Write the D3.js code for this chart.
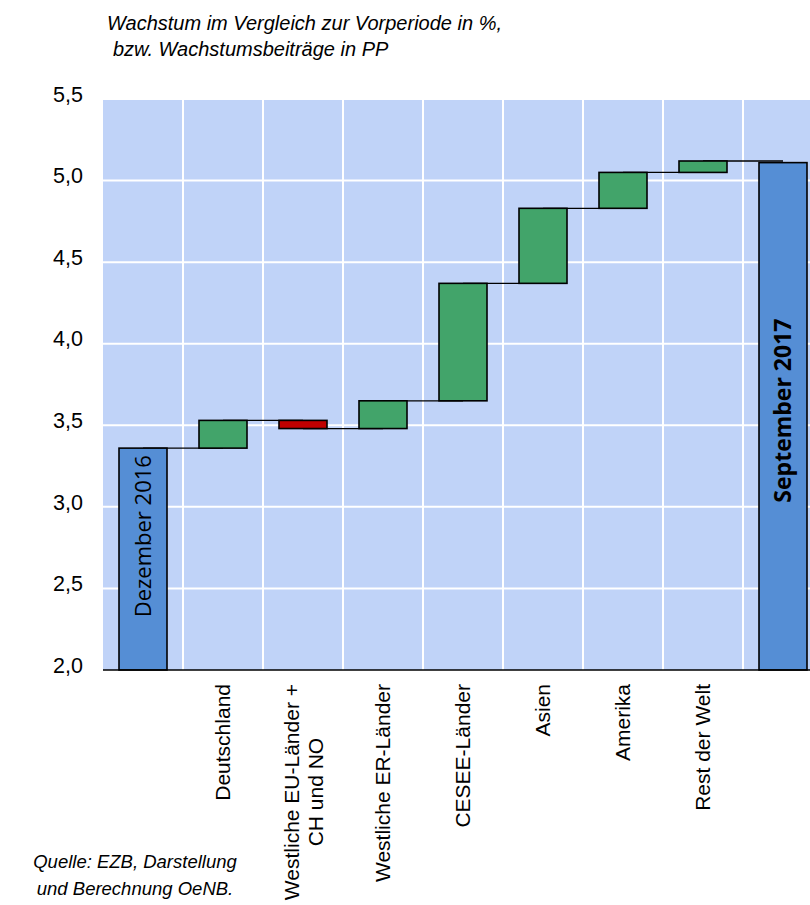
<!DOCTYPE html>
<meta charset="utf-8">
<style>
body { margin: 0; background: #fff; }
text { font-family: "Liberation Sans", Arial, sans-serif; fill: #000; }
.note { font-style: italic; font-size: 18.5px; }
.title { font-size: 20px; }
.cat text { font-size: 21px; }
.barlabel { font-family: "Open Sans", sans-serif; }
</style>
<body>
<svg width="810" height="905"></svg>
<script src="https://d3js.org/d3.v7.min.js"></script>
<script>

// data: start total, contributions in PP, end total
var categories = ["Dezember 2016", "Deutschland", "Westliche EU-Länder +|CH und NO", "Westliche ER-Länder",
                  "CESEE-Länder", "Asien", "Amerika", "Rest der Welt", "September 2017"];
var startValue = 3.36;
var contributions = [0.17, -0.05, 0.17, 0.72, 0.46, 0.22, 0.07];
var endValue = 5.11;
var yTicks = [2.0, 2.5, 3.0, 3.5, 4.0, 4.5, 5.0, 5.5];
// where the text in the total bars sits (value at text centre)
var totalLabelPos = [2.82, 3.59];

var svg = d3.select("svg"),
    margin = {top: 99, left: 103, bottom: 235},
    plotW = 720,
    plotH = +svg.attr("height") - margin.top - margin.bottom;

var x = d3.scaleBand().domain(d3.range(categories.length)).range([margin.left, margin.left + plotW]).paddingInner(0).paddingOuter(0);
var y = d3.scaleLinear().domain([2.0, 5.5]).range([margin.top + plotH, margin.top]);
var bw = x.bandwidth() * 0.6;

// build waterfall rows
var rows = [{i: 0, lo: 2.0, hi: startValue, type: "total"}];
var run = startValue;
contributions.forEach(function(c, k) {
  var next = run + c;
  rows.push({i: k + 1, lo: Math.min(run, next), hi: Math.max(run, next), type: c >= 0 ? "up" : "down"});
  run = next;
});
rows.push({i: categories.length - 1, lo: 2.0, hi: endValue, type: "total"});

// plot background
svg.append("rect")
    .attr("x", margin.left).attr("y", margin.top)
    .attr("width", plotW).attr("height", plotH)
    .attr("fill", "#c0d3f8");

// grid
svg.append("g").selectAll("line").data(yTicks.slice(1)).enter().append("line")
    .attr("x1", margin.left).attr("x2", margin.left + plotW)
    .attr("y1", function(d) { return y(d); }).attr("y2", function(d) { return y(d); })
    .attr("stroke", "#fff").attr("stroke-width", 2);
svg.append("g").selectAll("line").data(d3.range(1, categories.length + 1)).enter().append("line")
    .attr("x1", function(d) { return x.step() * d + margin.left; })
    .attr("x2", function(d) { return x.step() * d + margin.left; })
    .attr("y1", margin.top).attr("y2", margin.top + plotH)
    .attr("stroke", "#fff").attr("stroke-width", 2);

// connector lines
var levels = [startValue];
run = startValue;
contributions.forEach(function(c) { run += c; levels.push(run); });
svg.append("g").selectAll("line").data(levels).enter().append("line")
    .attr("x1", function(d, k) { return x(k) + x.bandwidth() / 2; })
    .attr("x2", function(d, k) { return x(k + 1) + x.bandwidth() / 2; })
    .attr("y1", function(d) { return y(d); }).attr("y2", function(d) { return y(d); })
    .attr("stroke", "#000").attr("stroke-width", 1.3);

// bars
var color = {total: "#558ed5", up: "#42a46a", down: "#c00000"};
svg.append("g").selectAll("rect").data(rows).enter().append("rect")
    .attr("x", function(d) { return x(d.i) + (x.bandwidth() - bw) / 2; })
    .attr("width", bw)
    .attr("y", function(d) { return y(d.hi); })
    .attr("height", function(d) { return y(d.lo) - y(d.hi); })
    .attr("fill", function(d) { return color[d.type]; })
    .attr("stroke", "#000").attr("stroke-width", 1.6);

// labels in total bars
[0, categories.length - 1].forEach(function(i, k) {
  svg.append("text")
      .attr("class", "barlabel")
      .attr("transform", "translate(" + (x(i) + x.bandwidth() / 2 + 8) + "," + y(totalLabelPos[k]) + ") rotate(-90)")
      .attr("text-anchor", "middle")
      .style("font-weight", k === 1 ? "bold" : "normal")
      .style("font-size", k === 1 ? "23px" : "22px")
      .text(categories[i]);
});

// x axis line
svg.append("line")
    .attr("x1", margin.left).attr("x2", margin.left + plotW)
    .attr("y1", y(2.0)).attr("y2", y(2.0))
    .attr("stroke", "#000").attr("stroke-width", 1.5);

// y axis
var yAxis = svg.append("g")
    .attr("transform", "translate(" + margin.left + ",0)")
    .call(d3.axisLeft(y).tickValues(yTicks).tickSize(0).tickPadding(20)
      .tickFormat(function(d) { return d3.format(".1f")(d).replace(".", ","); }));
yAxis.select(".domain").remove();
yAxis.selectAll("text").attr("dy", "0.1em").style("font-size", "21.5px").attr("font-family", null);

// category labels, rotated
var cat = svg.append("g").attr("class", "cat");
categories.slice(1, -1).forEach(function(c, k) {
  var lines = c.split("|");
  var g = cat.append("g")
      .attr("transform", "translate(" + (x(k + 1) + x.bandwidth() / 2) + "," + (y(2.0) + 14) + ") rotate(-90)");
  var t = g.append("text").attr("text-anchor", "middle");
  lines.forEach(function(l, j) {
    t.append("tspan").attr("x", 0).attr("dy", j === 0 ? (0.35 - (lines.length - 1) * 0.55) + "em" : "1.15em").text(l);
  });
  var w = d3.max(t.selectAll("tspan").nodes(), function(n) { return n.getComputedTextLength(); });
  t.attr("transform", "translate(" + (-w / 2) + ",0)");
});

// titles
svg.append("text").attr("class", "note title").attr("x", 107).attr("y", 30).text("Wachstum im Vergleich zur Vorperiode in %,");
svg.append("text").attr("class", "note title").attr("x", 113).attr("y", 56).text("bzw. Wachstumsbeiträge in PP");
svg.append("text").attr("class", "note").attr("x", 135).attr("y", 868).attr("text-anchor", "middle").text("Quelle: EZB, Darstellung");
svg.append("text").attr("class", "note").attr("x", 135).attr("y", 895).attr("text-anchor", "middle").text("und Berechnung OeNB.");

</script>
</body>
